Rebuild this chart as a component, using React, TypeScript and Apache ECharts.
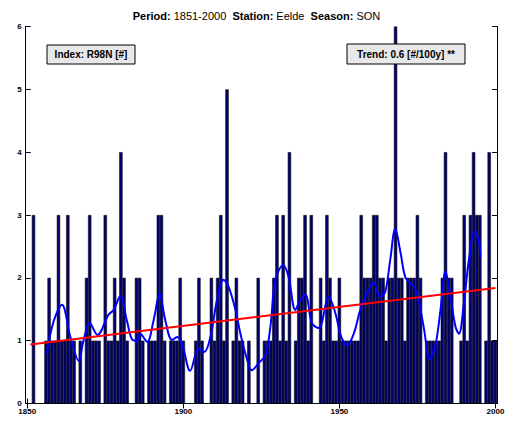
import React, { useEffect, useRef } from "react";
import * as echarts from "echarts";

// R98N index counts per year, 1851..2000
const startYear = 1851;
const counts = [
  0, 3, 0, 0, 0, 1, 2, 1, 1, 3, // 1851-1860
  1, 1, 3, 1, 1, 0, 1, 0, 2, 3, // 1861-1870
  1, 1, 1, 0, 3, 1, 1, 2, 1, 4, // 1871-1880
  2, 1, 0, 0, 2, 2, 1, 0, 1, 1, // 1881-1890
  1, 3, 3, 1, 0, 1, 1, 1, 2, 1, // 1891-1900
  0, 0, 0, 1, 2, 1, 0, 0, 2, 1, // 1901-1910
  2, 3, 1, 5, 0, 1, 2, 1, 1, 0, // 1911-1920
  1, 0, 0, 2, 0, 1, 1, 1, 2, 3, // 1921-1930
  1, 3, 1, 4, 0, 1, 2, 2, 3, 1, // 1931-1940
  3, 0, 0, 2, 1, 3, 2, 1, 1, 2, // 1941-1950
  1, 1, 1, 1, 1, 1, 3, 2, 2, 2, // 1951-1960
  3, 3, 2, 2, 1, 2, 2, 6, 2, 2, // 1961-1970
  1, 2, 2, 2, 3, 2, 0, 1, 1, 1, // 1971-1980
  1, 1, 2, 4, 2, 2, 0, 0, 1, 3, // 1981-1990
  1, 3, 4, 3, 3, 0, 1, 4, 1, 1, // 1991-2000
];

// smoothed curve
const smoothYears = [
  1856.3, 1858.4, 1861.1, 1863.8, 1866.5, 1868.0, 1870.0, 1872.5, 1876.0, 1877.7,
  1879.8, 1882.0, 1883.6, 1885.2, 1886.2, 1888.4, 1890.5, 1892.4, 1894.2, 1896.4,
  1898.0, 1899.6, 1902.2, 1904.9, 1906.7, 1908.7, 1910.8, 1912.9, 1914.5, 1916.7,
  1918.3, 1920.2, 1922.0, 1924.1, 1926.3, 1927.9, 1929.5, 1932.0, 1933.7, 1935.9,
  1937.5, 1939.1, 1941.2, 1943.4, 1946.6, 1948.7, 1950.6, 1952.5, 1954.6, 1956.7,
  1958.8, 1961.0, 1963.1, 1964.7, 1966.3, 1967.9, 1969.6, 1971.2, 1973.3, 1974.9,
  1977.0, 1979.0, 1980.8, 1982.4, 1984.0, 1985.6, 1987.2, 1988.3, 1989.9, 1991.5,
  1993.3, 1994.7, 1995.2,
];
const smoothValues = [
  0.8, 1.3, 1.57, 1.06, 0.68, 1.0, 1.28, 1.09, 1.41, 1.49,
  1.71, 1.3, 1.02, 1.0, 1.11, 0.98, 1.33, 1.75, 1.33, 1.01,
  1.06, 0.95, 0.52, 0.87, 0.82, 1.06, 1.65, 1.97, 1.86, 1.49,
  1.11, 0.74, 0.53, 0.64, 0.77, 1.22, 1.97, 2.2, 2.02, 1.49,
  1.65, 1.73, 1.28, 1.2, 1.7, 1.44, 1.06, 0.93, 1.11, 1.49,
  1.75, 1.92, 1.7, 1.78, 2.29, 2.78, 2.4, 2.0, 1.89, 1.75,
  1.22, 0.71, 0.93, 1.49, 2.1, 1.7, 1.22, 1.11, 1.6, 2.29,
  2.74, 2.58, 2.32,
];

const trendYears = [1851, 2000];
const trendValues = [0.94, 1.84];

const xTickLabels = [1850, 1900, 1950, 2000];
const yTickLabels = [0, 1, 2, 3, 4, 5, 6];

const FONT = "Liberation Sans";

export default function App() {
  const ref = useRef<HTMLDivElement>(null);

  useEffect(() => {
    if (!ref.current) return;
    const chart = echarts.init(ref.current, undefined, { renderer: "svg" });

    const barData = counts.map((v, i) => [startYear + i, v]);
    const smoothData = smoothYears.map((y, i) => [y, smoothValues[i]]);
    const trendData = trendYears.map((y, i) => [y, trendValues[i]]);

    const axisCommon = {
      type: "value" as const,
      axisLine: { show: true, lineStyle: { color: "#000", width: 1 } },
      splitLine: { show: false },
    };

    chart.setOption({
      animation: false,
      backgroundColor: "#fff",
      title: {
        text: "{b|Period:} 1851-2000  {b|Station:} Eelde  {b|Season:} SON",
        left: "center",
        top: 5,
        textStyle: {
          fontSize: 11,
          fontWeight: "normal",
          color: "#000",
          fontFamily: FONT,
          rich: {
            b: { fontSize: 11, fontWeight: "bold", color: "#000", fontFamily: FONT },
          },
        },
      },
      grid: { left: 25.7, right: 16, top: 26.5, bottom: 19.5, containLabel: false },
      xAxis: [
        {
          ...axisCommon,
          position: "bottom",
          min: 1849.5,
          max: 2000.5,
          axisTick: { show: true, inside: true, length: 5, customValues: xTickLabels, lineStyle: { color: "#000" } },
          axisLabel: {
            show: true,
            customValues: xTickLabels,
            formatter: (v: number) => String(Math.round(v)),
            margin: 4,
            fontSize: 8,
            fontWeight: "bold",
            fontFamily: FONT,
            color: "#000",
          },
        },
        {
          ...axisCommon,
          position: "top",
          min: 1849.5,
          max: 2000.5,
          axisTick: { show: true, inside: true, length: 5, customValues: xTickLabels, lineStyle: { color: "#000" } },
          axisLabel: { show: false },
        },
      ],
      yAxis: [
        {
          ...axisCommon,
          position: "left",
          min: 0,
          max: 6,
          interval: 1,
          axisTick: { show: true, inside: true, length: 5, lineStyle: { color: "#000" } },
          axisLabel: {
            show: true,
            margin: 4,
            fontSize: 8,
            fontWeight: "bold",
            fontFamily: FONT,
            color: "#000",
            padding: [0, 0, 3, 0],
            formatter: (v: number) => (yTickLabels.includes(v) ? String(v) : ""),
          },
        },
        {
          ...axisCommon,
          position: "right",
          min: 0,
          max: 6,
          interval: 1,
          axisTick: { show: true, inside: true, length: 5, lineStyle: { color: "#000" } },
          axisLabel: { show: false },
        },
      ],
      series: [
        {
          type: "bar",
          data: barData,
          barWidth: 3.35,
          itemStyle: { color: "#00006e", borderColor: "#111", borderWidth: 0.6 },
          silent: true,
        },
        {
          type: "line",
          data: smoothData,
          smooth: 0.35,
          showSymbol: false,
          lineStyle: { color: "#0000ff", width: 2 },
          silent: true,
        },
        {
          type: "line",
          data: trendData,
          showSymbol: false,
          lineStyle: { color: "#ff0000", width: 2 },
          silent: true,
        },
      ],
      graphic: [
        {
          type: "rect",
          shape: { x: 47, y: 45, width: 88, height: 19 },
          style: { fill: "#e8e8e8", stroke: "#000", lineWidth: 1 },
          z: 100,
        },
        {
          type: "text",
          x: 91,
          y: 54.5,
          style: {
            text: "Index: R98N [#]",
            fill: "#000",
            font: `bold 10px "${FONT}"`,
            align: "center",
            verticalAlign: "middle",
          },
          z: 101,
        },
        {
          type: "rect",
          shape: { x: 347, y: 44, width: 118, height: 20 },
          style: { fill: "#e8e8e8", stroke: "#000", lineWidth: 1 },
          z: 100,
        },
        {
          type: "text",
          x: 406,
          y: 54,
          style: {
            text: "Trend: 0.6 [#/100y] **",
            fill: "#000",
            font: `bold 10px "${FONT}"`,
            align: "center",
            verticalAlign: "middle",
          },
          z: 101,
        },
      ],
    });

    return () => chart.dispose();
  }, []);

  return (
    <div
      ref={ref}
      style={{ position: "fixed", left: 0, top: 0, width: 513, height: 423, background: "#fff" }}
    />
  );
}
